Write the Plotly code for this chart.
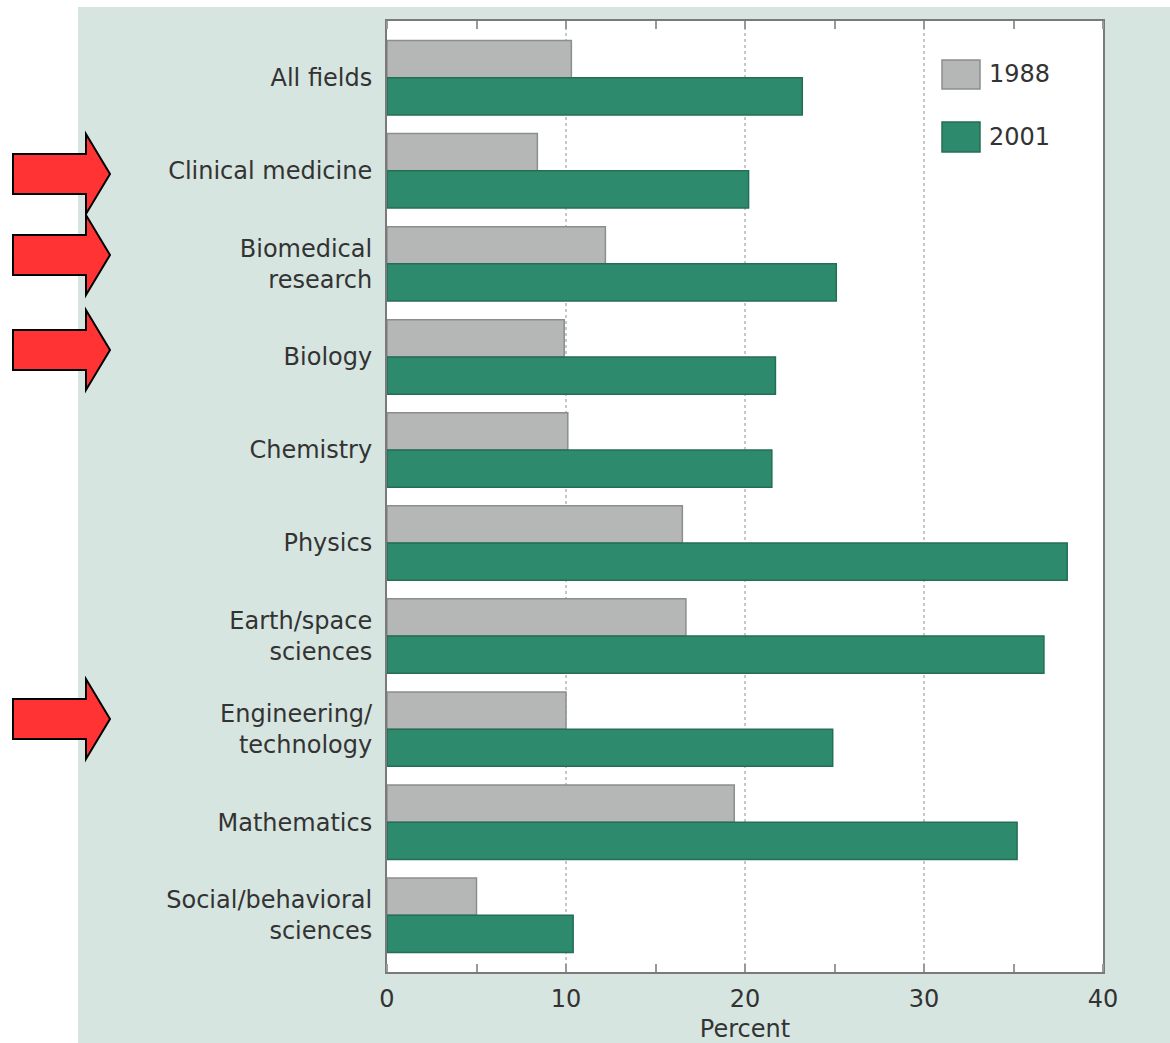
import plotly.graph_objects as go

# Share of papers with international co-authorship, by field
fields = [
    "All fields",
    "Clinical medicine",
    "Biomedical<br>research",
    "Biology",
    "Chemistry",
    "Physics",
    "Earth/space<br>sciences",
    "Engineering/<br>technology",
    "Mathematics",
    "Social/behavioral<br>sciences",
]
pct_1988 = [10.3, 8.4, 12.2, 9.9, 10.1, 16.5, 16.7, 10.0, 19.4, 5.0]
pct_2001 = [23.2, 20.2, 25.1, 21.7, 21.5, 38.0, 36.7, 24.9, 35.2, 10.4]
series_names = ["1988", "2001"]
x_ticks = [0, 10, 20, 30, 40]

W, H = 1170, 1043
L, R, T, B = 387, 1103, 21, 972  # plot-area edges in pixels

GREY, GREY_LINE = "#b5b7b7", "#8c8e8e"
GREEN, GREEN_LINE = "#2e8a6c", "#246e56"
PANEL = "#d6e5e0"
TEXT = "#333333"
FONT = "DejaVu Sans, Liberation Sans, Arial, sans-serif"
FS = 24


def px(xp):
    return (xp - L) / (R - L)


def py(yp):
    return (B - yp) / (B - T)


fig = go.Figure()
fig.add_trace(go.Bar(
    y=fields, x=pct_1988, name=series_names[0], orientation="h",
    marker=dict(color=GREY, line=dict(color=GREY_LINE, width=1.5)),
))
fig.add_trace(go.Bar(
    y=fields, x=pct_2001, name=series_names[1], orientation="h",
    marker=dict(color=GREEN, line=dict(color=GREEN_LINE, width=1.5)),
))

shapes = []
# white margin to the left of and above the grey-green panel
shapes.append(dict(
    type="rect", xref="paper", yref="paper", layer="below",
    x0=px(-10), x1=px(78), y0=py(H + 10), y1=py(-10),
    fillcolor="white", line=dict(width=0),
))
shapes.append(dict(
    type="rect", xref="paper", yref="paper", layer="below",
    x0=px(-10), x1=px(W + 10), y0=py(7), y1=py(-10),
    fillcolor="white", line=dict(width=0),
))


def arrow(tip_y):
    x_tail, x_neck, x_tip = 13, 86, 110
    th, hh = 20, 40
    pts = [
        (x_tail, tip_y - th), (x_neck, tip_y - th), (x_neck, tip_y - hh),
        (x_tip, tip_y), (x_neck, tip_y + hh), (x_neck, tip_y + th),
        (x_tail, tip_y + th),
    ]
    path = "M " + " L ".join(f"{px(a):.5f},{py(b):.5f}" for a, b in pts) + " Z"
    return dict(type="path", xref="paper", yref="paper", path=path,
                fillcolor="#ff3333", line=dict(color="#000000", width=2))


for ty in [174, 255, 350, 719]:
    shapes.append(arrow(ty))

# legend swatches
legend_rows = [(GREY, GREY_LINE, 60, 89), (GREEN, GREEN_LINE, 122, 152)]
annotations = []
for (fc, lc, y0, y1), name in zip(legend_rows, series_names):
    shapes.append(dict(
        type="rect", xref="paper", yref="paper",
        x0=px(942), x1=px(980), y0=py(y1), y1=py(y0),
        fillcolor=fc, line=dict(color=lc, width=1.5),
    ))
    annotations.append(dict(
        xref="paper", yref="paper", x=px(987), y=py((y0 + y1) / 2),
        text=name, showarrow=False, xanchor="left", yanchor="middle",
        font=dict(size=FS, color=TEXT, family=FONT),
    ))

fig.update_layout(
    width=W, height=H,
    margin=dict(l=L, r=W - R, t=T, b=H - B, pad=0),
    paper_bgcolor=PANEL, plot_bgcolor="white",
    barmode="group", bargap=0.2, bargroupgap=0,
    showlegend=False,
    font=dict(family=FONT, size=FS, color=TEXT),
    shapes=shapes, annotations=annotations,
    xaxis=dict(
        range=[0, 40], tickvals=x_ticks, ticktext=[str(v) for v in x_ticks],
        ticks="", showgrid=True, gridcolor="#c8c8c8", griddash="dot", gridwidth=1.5,
        showline=True, linecolor="#7a7a7a", linewidth=2, mirror="ticks",
        zeroline=False, automargin=False,
        minor=dict(dtick=5, ticks="inside", ticklen=8, tickcolor="#999999",
                   tickwidth=1.5, showgrid=False),
        tickfont=dict(size=FS, color=TEXT), ticklabelstandoff=4,
        title=dict(text="Percent", font=dict(size=FS, color=TEXT), standoff=20),
    ),
    yaxis=dict(
        type="category", range=[9.61, -0.61], automargin=False,
        ticks="", showgrid=False, showline=True, linecolor="#7a7a7a",
        linewidth=2, mirror=True, zeroline=False,
        tickfont=dict(size=FS, color=TEXT), ticklabelstandoff=8,
    ),
)

fig.write_html("out.html")
